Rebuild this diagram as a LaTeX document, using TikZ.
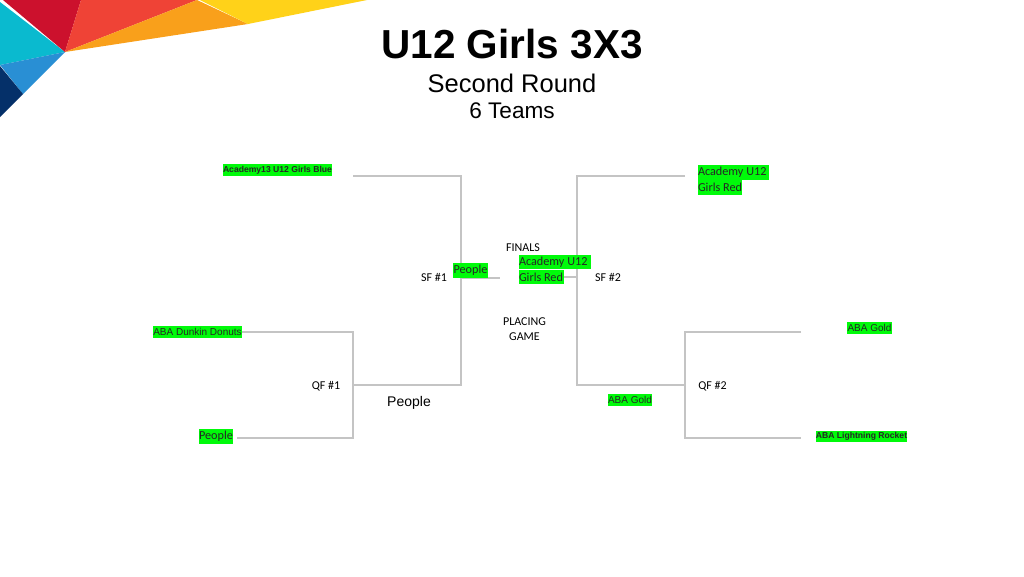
\documentclass[tikz,border=0pt]{standalone}
\usepackage{fontspec}
\setmainfont{Liberation Sans}
\newfontfamily\carlito{Carlito}
\definecolor{bracket}{RGB}{196, 196, 196}
\definecolor{winner}{RGB}{0, 250, 10}
\definecolor{ribbonred}{RGB}{204, 17, 45}
\definecolor{ribboncoral}{RGB}{239, 67, 54}
\definecolor{ribbonorange}{RGB}{249, 160, 27}
\definecolor{ribbonyellow}{RGB}{255, 210, 25}
\definecolor{ribboncyan}{RGB}{10, 186, 207}
\definecolor{ribbonblue}{RGB}{41, 143, 212}
\definecolor{ribbonnavy}{RGB}{5, 48, 105}
\newcommand{\leftin}[2]{\makebox[#1][l]{#2}}

\begin{document}
\begin{tikzpicture}[
      x=1pt, y=-1pt,
      team/.style={fill=winner, inner sep=0pt, text=black!85},
      teamc/.style={team, font=\carlito\fontsize{12.2}{12}\selectfont},
      teams/.style={team, font=\fontsize{10}{10}\selectfont},
      teamb/.style={team, font=\bfseries\fontsize{8.6}{10}\selectfont},
      tag/.style={inner sep=0pt, font=\carlito\fontsize{12}{14.5}\selectfont, align=center},
      line/.style={draw=bracket, line width=1.3pt}
    ]
      \useasboundingbox (0,0) rectangle (1024,576);

      % Ribbon
      \fill[ribboncyan] (0,2) -- (65,52) -- (0,65) -- cycle;
      \fill[ribbonblue] (0,65) -- (65,52) -- (23,94) -- cycle;
      \fill[ribbonnavy] (0,66) -- (23,94) -- (0,117) -- cycle;
      \fill[ribbonred] (3,0) -- (81,0) -- (65,52) -- cycle;
      \fill[ribboncoral] (81,0) -- (197,0) -- (65,52) -- cycle;
      \fill[ribbonorange] (197,0) -- (248,24) -- (65,52) -- cycle;
      \fill[ribbonyellow] (200,0) -- (367,0) -- (248,24) -- cycle;

      % Title
      \node[font=\bfseries\fontsize{40.5}{40}\selectfont] (title) at (512,44) {U12 Girls 3X3};
      \node[font=\fontsize{25.5}{25}\selectfont] (round) at (512,83) {Second Round};
      \node[font=\fontsize{22.6}{22}\selectfont] (count) at (512,111) {6 Teams};

      % Free ends and corners
      \coordinate (blueEnd) at (353,176);
      \coordinate (sfOneTop) at (461,176);
      \coordinate (sfOneBot) at (461,385);
      \coordinate (qfOneOut) at (353,385);
      \coordinate (qfOneTop) at (353,332);
      \coordinate (qfOneBot) at (353,438);
      \coordinate (peopleEnd) at (237,438);
      \coordinate (sfOneOut) at (461,278);
      \coordinate (finalEnd) at (500,278);
      \coordinate (redEnd) at (685,176);
      \coordinate (sfTwoTop) at (577,176);
      \coordinate (sfTwoBot) at (577,385);
      \coordinate (qfTwoOut) at (685,385);
      \coordinate (qfTwoTop) at (685,332);
      \coordinate (qfTwoBot) at (685,438);
      \coordinate (goldEnd) at (801,332);
      \coordinate (rocketEnd) at (801,438);
      \coordinate (sfTwoOut) at (577,277);

      % Teams
      \node[teamb, minimum width=109pt, minimum height=12pt] (blue) at (277.5,170) {Academy13 U12 Girls Blue};
      \node[teams, minimum width=89pt, minimum height=12pt] (dunkin) at (197.5,332) {ABA Dunkin Donuts};
      \node[teamc, minimum width=34pt, minimum height=15pt] (peopleA) at (216,436) {People};
      \node[teamc, minimum height=14.5pt] (finalB) at (541.5,277) {\leftin{45pt}{Girls Red}};
      \node[teamc, minimum height=14.5pt] (redA) at (733.5,172.5) {\leftin{71pt}{Academy U12}};
      \node[teamc, minimum height=14.5pt] (redB) at (720,187.5) {\leftin{44pt}{Girls Red}};
      \node[teams, minimum width=45pt, minimum height=12pt] (goldA) at (869.5,328) {ABA Gold};
      \node[teams, minimum width=44pt, minimum height=12pt] (goldB) at (630,400) {ABA Gold};
      \node[teamb, minimum width=91pt, minimum height=11pt] (rocket) at (861.5,436) {ABA Lightning Rocket};

      % Bracket
      \draw[line] (blueEnd) -- (sfOneTop) -- (sfOneBot) -- (qfOneOut);
      \draw[line] (dunkin.east) -- (qfOneTop) -- (qfOneBot) -- (peopleEnd);
      \draw[line] (sfOneOut) -- (finalEnd);
      \draw[line] (redEnd) -- (sfTwoTop) -- (sfTwoBot) -- (qfTwoOut);
      \draw[line] (goldEnd) -- (qfTwoTop) -- (qfTwoBot) -- (rocketEnd);
      \draw[line] (finalB.east) -- (sfTwoOut);

      % These two sit on the line
      \node[teamc, minimum width=35pt, minimum height=15pt] (peopleB) at (470.5,270) {People};
      \node[teamc, minimum height=14.5pt] (finalA) at (555,262) {\leftin{72pt}{Academy U12}};

      % Labels
      \node[tag] (finals) at (523,247.5) {FINALS};
      \node[tag] (sfOne) at (434,277.5) {SF \#1};
      \node[tag] (sfTwo) at (608,277.5) {SF \#2};
      \node[tag] (placing) at (524.5,329) {PLACING\\GAME};
      \node[tag] (qfOne) at (326,386) {QF \#1};
      \node[tag] (qfTwo) at (712.5,386) {QF \#2};
      \node[inner sep=0pt, font=\fontsize{14}{14}\selectfont] (peopleC) at (409,402.5) {People};
    \end{tikzpicture}
\end{document}
